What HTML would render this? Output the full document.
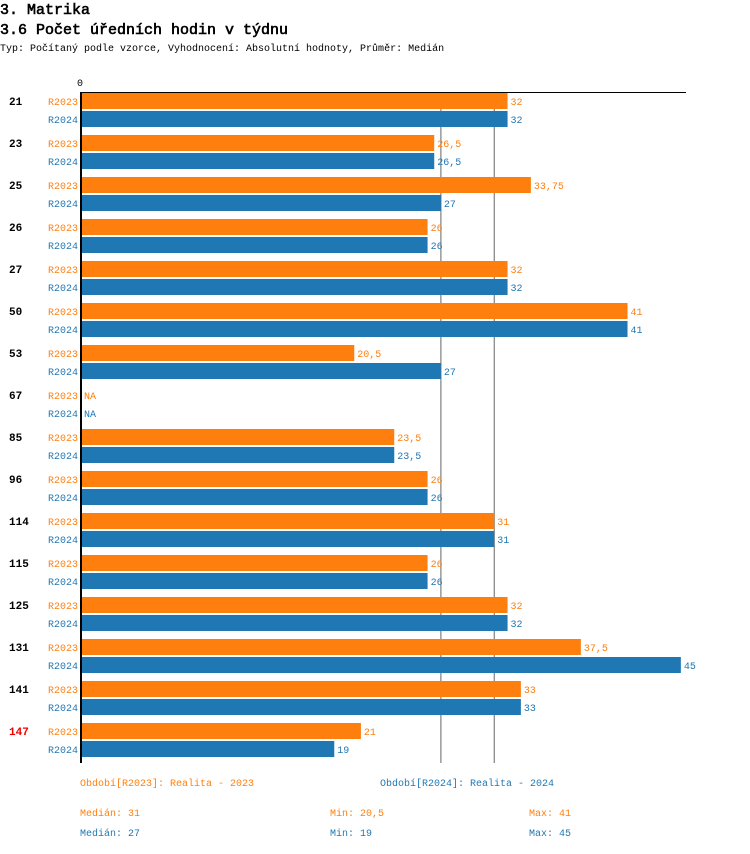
<!DOCTYPE html>
<html><head><meta charset="utf-8"><style>
body{margin:0;background:#fff;width:750px;height:854px;overflow:hidden;font-family:"Liberation Mono",monospace;}
.t{position:absolute;white-space:nowrap;}
</style></head><body>
<div class="t" style="left:0;top:2px;font-size:15px;-webkit-text-stroke:0.6px #000;">3. Matrika</div>
<div class="t" style="left:0;top:22px;font-size:15px;-webkit-text-stroke:0.6px #000;">3.6 Počet úředních hodin v týdnu</div>
<div class="t" style="left:0;top:44px;font-size:10px;">Typ: Počítaný podle vzorce, Vyhodnocení: Absolutní hodnoty, Průměr: Medián</div>
<svg id="c" width="750" height="854" style="position:absolute;left:0;top:0" font-family="Liberation Mono, monospace" font-size="11"></svg>
<script>
const categories=["21","23","25","26","27","50","53","67","85","96","114","115","125","131","141","147"];
const r2023=[32,26.5,33.75,26,32,41,20.5,null,23.5,26,31,26,32,37.5,33,21];
const r2024=[32,26.5,27,26,32,41,27,null,23.5,26,31,26,32,45,33,19];
const medians=[31,27];
const highlight=["147"];
const O="#ff7f0e",B="#1f77b4";
const svg=document.getElementById('c');const NS="http://www.w3.org/2000/svg";
const x=v=>81+v*13.33;
const y0=93,step=42,bh=16;
function mk(t,a,txt){const e=document.createElementNS(NS,t);for(const k in a)e.setAttribute(k,a[k]);if(txt!==undefined)e.textContent=txt;svg.appendChild(e);return e;}
const fmt=v=>String(v).replace('.',',');
const yEnd=y0+categories.length*step-2;
[[medians[0],O],[medians[1],B]].forEach(([m,col])=>{
 let ln=mk('line',{x1:x(m),x2:x(m),y1:y0-1,y2:yEnd,stroke:'#666','stroke-width':1});
 
 
});
categories.forEach((c,i)=>{
 const yt=y0+i*step;
 let e=mk('text',{x:9,y:yt+12,'font-weight':'bold',fill:highlight.includes(c)?'#e00':'#000'},c);
 
 
 [[r2023,O,'R2023',0],[r2024,B,'R2024',18]].forEach(([arr,col,lab,off])=>{
  const yy=yt+off,v=arr[i];
  let l=mk('text',{x:48,y:yy+12,fill:col,'font-size':10},lab);
  
  
  if(v!==null){
   let r=mk('rect',{x:x(0),y:yy,width:x(v)-x(0),height:bh,fill:col});
   
   
  }
  let vt=mk('text',{x:(v===null?x(0):x(v))+3,y:yy+12,fill:col,'font-size':10},v===null?'NA':fmt(v));
  
  
 });
});
let ax=mk('line',{x1:81,x2:81,y1:y0-1,y2:yEnd,stroke:'#000','stroke-width':2});


let tl=mk('line',{x1:80,x2:686,y1:92.5,y2:92.5,stroke:'#000','stroke-width':1});


let z=mk('text',{x:77,y:86,'font-size':10},'0');


</script>
<div class="t" style="left:80px;top:779px;font-size:10px;color:#ff7f0e">Období[R2023]: Realita - 2023</div>
<div class="t" style="left:380px;top:779px;font-size:10px;color:#1f77b4">Období[R2024]: Realita - 2024</div>
<div class="t" style="left:80px;top:809px;font-size:10px;color:#ff7f0e">Medián: 31</div>
<div class="t" style="left:330px;top:809px;font-size:10px;color:#ff7f0e">Min: 20,5</div>
<div class="t" style="left:529px;top:809px;font-size:10px;color:#ff7f0e">Max: 41</div>
<div class="t" style="left:80px;top:829px;font-size:10px;color:#1f77b4">Medián: 27</div>
<div class="t" style="left:330px;top:829px;font-size:10px;color:#1f77b4">Min: 19</div>
<div class="t" style="left:529px;top:829px;font-size:10px;color:#1f77b4">Max: 45</div>
</body></html>
